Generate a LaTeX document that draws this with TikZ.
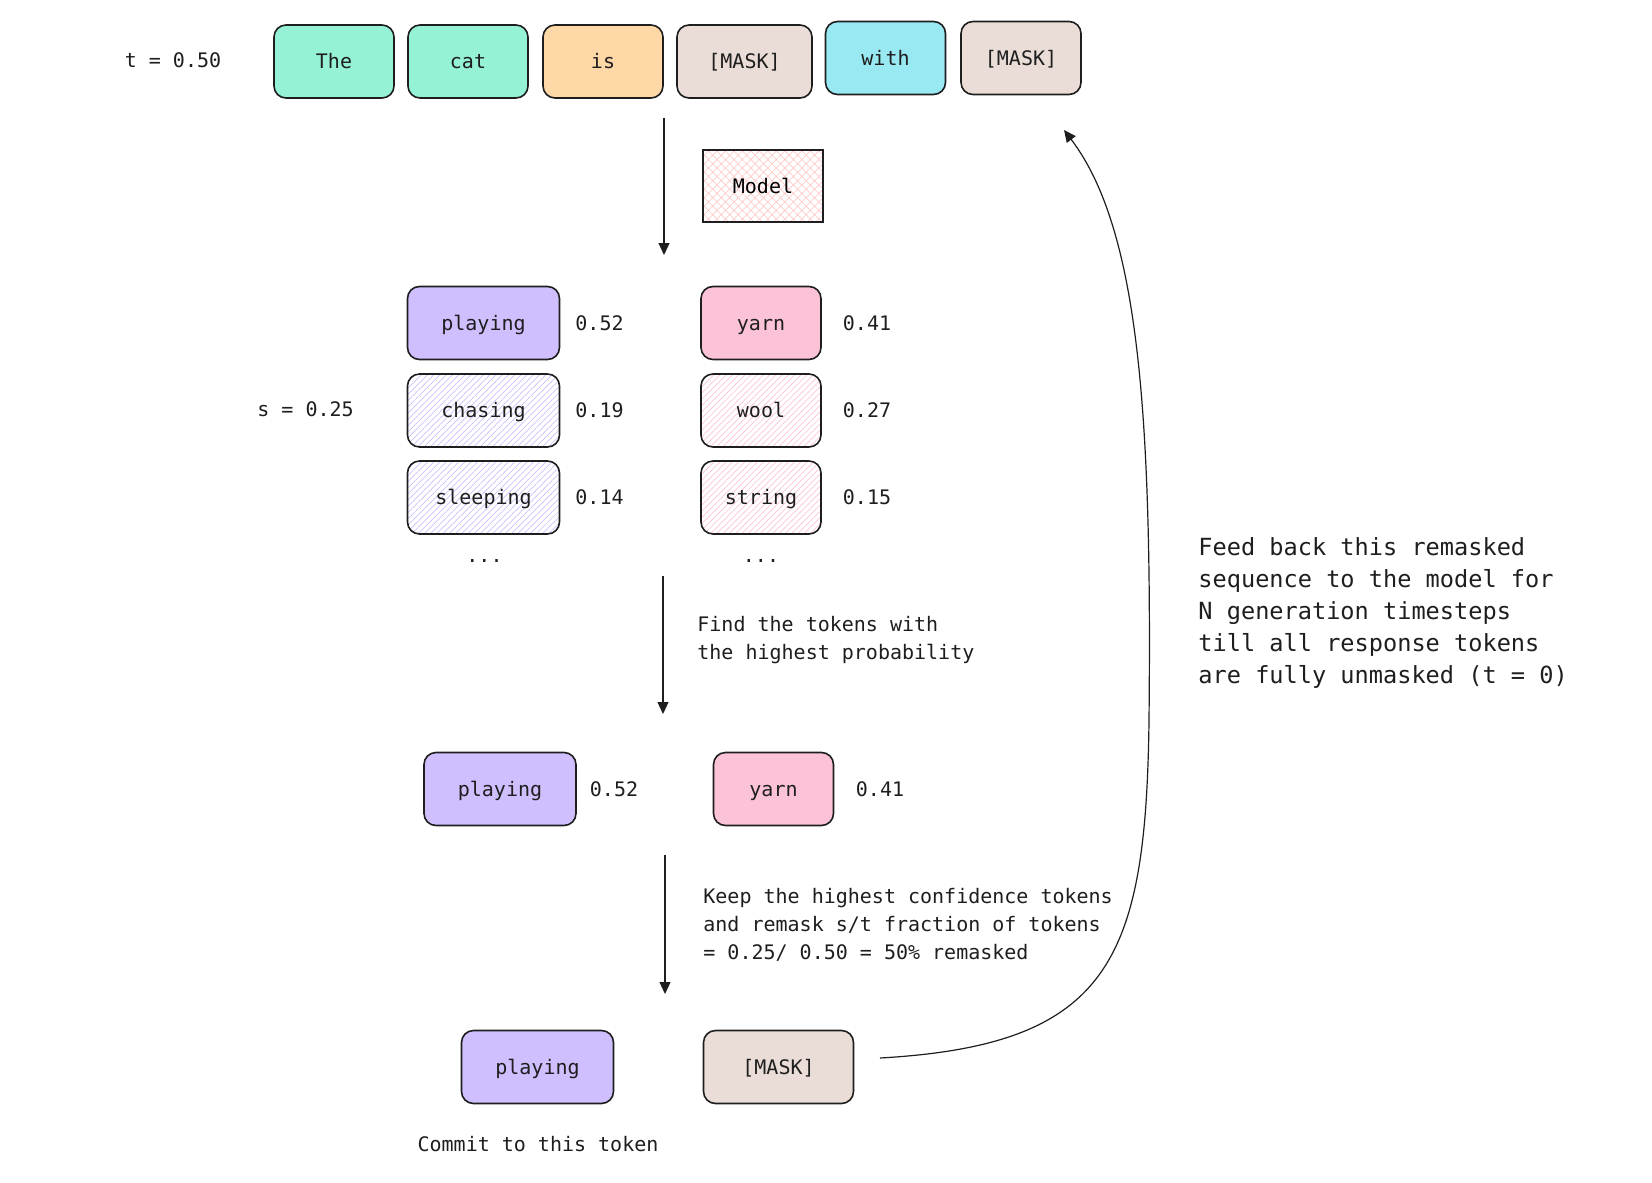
\documentclass[tikz,border=0pt]{standalone}
\usepackage{fontspec}
\setmonofont{DejaVu Sans Mono}
\usetikzlibrary{arrows.meta,patterns.meta}
\definecolor{ink}{HTML}{1E1E1E}
\definecolor{teal}{HTML}{96F2D7}
\definecolor{peach}{HTML}{FFD8A8}
\definecolor{maskc}{HTML}{EADDD7}
\definecolor{sky}{HTML}{99E9F2}
\definecolor{lilac}{HTML}{D0BFFF}
\definecolor{rose}{HTML}{FCC2D7}
\definecolor{redhatch}{HTML}{FFC9C9}
\newcommand{\tok}{\ttfamily\fontsize{10}{14}\selectfont}
\newcommand{\note}{\ttfamily\fontsize{11.8}{16}\selectfont}
\tikzset{
  tokbox/.style={draw=ink, line width=0.8pt, rounded corners=6pt, minimum width=60pt,
    minimum height=36.5pt, inner sep=0pt, font=\tok, text=ink, text height=8.6pt, text depth=1.4pt},
  lbl/.style={font=\tok, text=ink, inner sep=0pt},
  val/.style={lbl, text height=8.6pt, text depth=1.4pt},
  hatchlilac/.style={pattern={Lines[angle=45,distance=2.2pt,line width=0.35pt]}, pattern color=lilac},
  hatchrose/.style={pattern={Lines[angle=45,distance=2.2pt,line width=0.35pt]}, pattern color=rose},
  flow/.style={draw=ink, line width=0.6pt, -{Triangle[length=6pt,width=5.5pt]}}
}
\begin{document}
\begin{tikzpicture}[x=0.5pt, y=-0.5pt]
    \useasboundingbox (0, 0) rectangle (1652, 1182);

    \node[val] (t) at (173, 60) {t = 0.50};
    \node[tokbox, fill=teal] (The) at (334, 61.5) {The};
    \node[tokbox, fill=teal] (cat) at (468, 61.5) {cat};
    \node[tokbox, fill=peach] (is) at (603, 61.5) {is};
    \node[tokbox, fill=maskc, minimum width=67.5pt] (maskA) at (744.5, 61.5) {[MASK]};
    \node[tokbox, fill=sky] (with) at (885.5, 58) {with};
    \node[tokbox, fill=maskc] (maskB) at (1021, 58) {[MASK]};

    \node[draw=ink, line width=0.8pt, minimum width=60pt, minimum height=36pt, font=\tok,
      pattern={Hatch[angle=45,distance=3pt,line width=0.35pt]}, pattern color=redhatch] (model) at (763, 186) {Model};

    \coordinate (a1s) at (664, 118);
    \coordinate (a1e) at (664, 255);
    \draw[flow] (a1s) -- (a1e);

    \node[val] (s) at (305.5, 409) {s = 0.25};
    \node[tokbox, fill=lilac, minimum width=76pt] (playA) at (483.5, 323) {playing};
    \node[tokbox, hatchlilac, minimum width=76pt] (chase) at (483.5, 410.5) {chasing};
    \node[tokbox, hatchlilac, minimum width=76pt] (sleep) at (483.5, 497.5) {sleeping};
    \node[tokbox, fill=rose] (yarnA) at (761, 323) {yarn};
    \node[tokbox, hatchrose] (wool) at (761, 410.5) {wool};
    \node[tokbox, hatchrose] (string) at (761, 497.5) {string};
    \node[val] (pA) at (599.5, 323) {0.52};
    \node[val] (pB) at (599.5, 410.5) {0.19};
    \node[val] (pC) at (599.5, 497.5) {0.14};
    \node[val] (pD) at (867, 323) {0.41};
    \node[val] (pE) at (867, 410.5) {0.27};
    \node[val] (pF) at (867, 497.5) {0.15};
    \node[lbl, anchor=base] (dotsA) at (484.5, 562) {...};
    \node[lbl, anchor=base] (dotsB) at (761, 562) {...};

    \coordinate (a2s) at (663, 576);
    \coordinate (a2e) at (663, 714);
    \draw[flow] (a2s) -- (a2e);
    \node[lbl, anchor=west, align=left] (find) at (697, 640) {Find the tokens with\\the highest probability};

    \node[tokbox, fill=lilac, minimum width=76pt] (playB) at (500, 789) {playing};
    \node[tokbox, fill=rose] (yarnB) at (773.5, 789) {yarn};
    \node[val] (pG) at (614, 789) {0.52};
    \node[val] (pH) at (880, 789) {0.41};

    \coordinate (a3s) at (665, 855);
    \coordinate (a3e) at (665, 994);
    \draw[flow] (a3s) -- (a3e);
    \node[lbl, anchor=west, align=left] (keep) at (703, 925) {Keep the highest confidence tokens\\and remask s/t fraction of tokens\\= 0.25/ 0.50 = 50\% remasked};

    \node[tokbox, fill=lilac, minimum width=76pt] (playC) at (537.5, 1067) {playing};
    \node[tokbox, fill=maskc, minimum width=75pt] (maskC) at (778.5, 1067) {[MASK]};
    \node[val] (commit) at (538, 1144) {Commit to this token};

    \coordinate (bs) at (880, 1058);
    \coordinate (bm) at (1149, 720);
    \coordinate (be) at (1064, 130);
    \draw[flow] (bs) .. controls (1110, 1045) and (1146, 960) .. (bm)
                .. controls (1152, 420) and (1140, 230) .. (be);
    \node[font=\note, text=ink, inner sep=0pt, anchor=west, align=left] (feed) at (1198, 613)
      {Feed back this remasked\\sequence to the model for\\N generation timesteps\\till all response tokens\\are fully unmasked (t = 0)};
\end{tikzpicture}
\end{document}
